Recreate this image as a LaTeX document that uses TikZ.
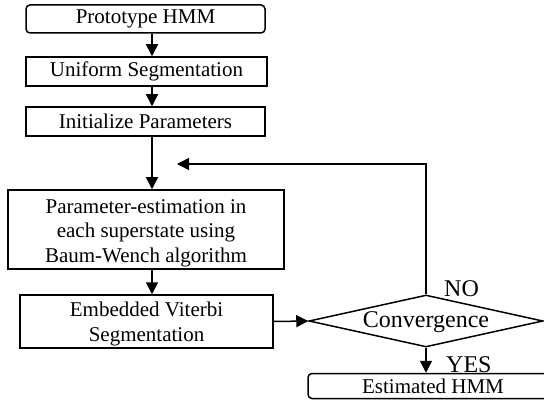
\documentclass[tikz,border=0pt]{standalone}
\usepackage{fontspec}
\setmainfont{Liberation Serif}
\usetikzlibrary{arrows.meta,shapes.geometric}
\begin{document}
\begin{tikzpicture}[x=1pt,y=-1pt,
  box/.style={draw,line width=1.5pt,inner sep=0pt,font=\fontsize{21}{24.5}\selectfont,align=center},
  rbox/.style={box,rounded corners=4pt},
  conn/.style={line width=1.5pt,-{Triangle[length=12pt,width=12pt]}},
  lbl/.style={font=\fontsize{24}{26}\selectfont,inner sep=0pt}]
\useasboundingbox (0,0) rectangle (544,401);
\node[rbox,minimum width=239pt,minimum height=28pt] (b1) at (145.5,19) {Prototype HMM};
\node[box,minimum width=241pt,minimum height=29pt] (b2) at (146.5,71.5) {Uniform Segmentation};
\node[box,minimum width=239pt,minimum height=29pt] (b3) at (145.5,121.5) {Initialize Parameters};
\node[box,minimum width=276pt,minimum height=79pt] (b4) at (146,229.5) {};
\node[font=\fontsize{21}{24.5}\selectfont,align=center,inner sep=0pt] (b4t) at (146,233) {Parameter-estimation in\\each superstate using\\Baum-Wench algorithm};
\node[box,minimum width=253pt,minimum height=53pt] (b5) at (146.5,321.5) {};
\node[font=\fontsize{21}{24.5}\selectfont,align=center,inner sep=0pt] (b5t) at (146.5,324) {Embedded Viterbi\\Segmentation};
\node[diamond,draw,line width=1.5pt,aspect=4.5,minimum width=234pt,minimum height=52pt,inner sep=0pt] (d) at (426,321) {};
\node[lbl] (dt) at (426,322) {Convergence};
\node[rbox,minimum width=250pt,minimum height=25pt,font=\fontsize{21}{24}\selectfont] (b6) at (433,386) {Estimated HMM};
\node[lbl,anchor=south west] (no) at (444,297) {NO};
\node[lbl,anchor=south west] (yes) at (446,373) {YES};
\coordinate (c1) at (152,0);
\draw[conn] (b1.south -| c1) -- (b2.north -| c1);
\draw[conn] (b2.south -| c1) -- (b3.north -| c1);
\draw[conn] (b3.south -| c1) -- (b4.north -| c1);
\draw[conn] (b4.south -| c1) -- (b5.north -| c1);
\draw[conn] (b5.east) -- (d.west);
\draw[conn] (d.south) -- (b6.north -| d.south);
\coordinate (fb) at (177,164);
\draw[conn] (d.north) -- (d.north |- fb) -- (fb);
\end{tikzpicture}
\end{document}
